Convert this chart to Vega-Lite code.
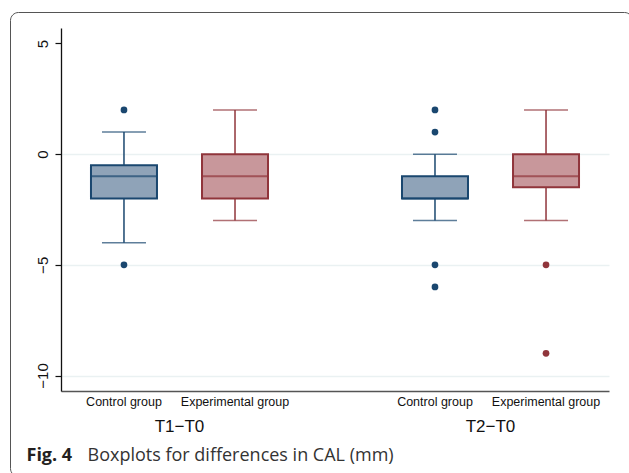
{
  "$schema": "https://vega.github.io/schema/vega-lite/v6.json",
  "autosize": {"type": "none"},
  "padding": {"left": 10, "top": 12, "right": -3, "bottom": -3},
  "width": 622,
  "height": 464,
  "background": "white",
  "config": {
    "view": {"stroke": "#555555", "strokeWidth": 1, "cornerRadius": 8, "fill": "white"},
    "axis": {"labelFont": "Liberation Sans", "titleFont": "Liberation Sans"}
  },
  "datasets": {
    "boxes": [
      {"period": "T1−T0", "group": "Control group", "lo": -4, "q1": -2, "med": -1, "q3": -0.5, "hi": 1},
      {"period": "T1−T0", "group": "Experimental group", "lo": -3, "q1": -2, "med": -1, "q3": 0, "hi": 2},
      {"period": "T2−T0", "group": "Control group", "lo": -3, "q1": -2, "med": -2, "q3": -1, "hi": 0},
      {"period": "T2−T0", "group": "Experimental group", "lo": -3, "q1": -1.5, "med": -1, "q3": 0, "hi": 2}
    ],
    "outliers": [
      {"period": "T1−T0", "group": "Control group", "value": 2},
      {"period": "T1−T0", "group": "Control group", "value": -5},
      {"period": "T2−T0", "group": "Control group", "value": 2},
      {"period": "T2−T0", "group": "Control group", "value": 1},
      {"period": "T2−T0", "group": "Control group", "value": -5},
      {"period": "T2−T0", "group": "Control group", "value": -6},
      {"period": "T2−T0", "group": "Experimental group", "value": -5},
      {"period": "T2−T0", "group": "Experimental group", "value": -9}
    ]
  },
  "resolve": {"axis": {"x": "independent"}},
  "layer": [
    {
      "data": {"name": "boxes"},
      "mark": {"type": "rule", "strokeWidth": 1.5},
      "encoding": {
        "x": {"field": "period", "type": "nominal",
          "scale": {"type": "band", "range": [51, 599], "paddingInner": 0.286, "paddingOuter": 0.024},
          "axis": {"orient": "bottom", "offset": -85, "labelExpr": "'Control group'", "labelOffset": -55.5,
            "labelPadding": 4, "labelFontSize": 12.5, "labelColor": "#111", "labelAngle": 0, "labelOverlap": false,
            "ticks": false, "tickSize": 0, "domain": true, "domainColor": "#555555", "domainWidth": 1.3,
            "title": "Fig. 4", "titleX": 16, "titleY": 69, "titleAlign": "left", "titleAnchor": null, "titleBaseline": "alphabetic",
            "titleFont": "Open Sans", "titleFontSize": 18, "titleFontWeight": "bold", "titleColor": "#231f20", "titleAngle": 0}},
        "xOffset": {"field": "group", "type": "nominal",
          "scale": {"domain": ["Control group", "Experimental group"], "paddingInner": 0, "paddingOuter": 0}},
        "y": {"field": "lo", "type": "quantitative",
          "scale": {"domain": [-10.7, 5.7], "range": [379, 16], "nice": false, "zero": false},
          "axis": {"orient": "left", "offset": -51, "values": [-10, -5, 0, 5], "title": null,
            "labelAngle": -90, "labelFontSize": 15, "labelColor": "#111", "labelPadding": 5,
            "tickSize": 6, "tickColor": "#111", "tickWidth": 1.2, "domainColor": "#111", "domainWidth": 1.3,
            "grid": true, "gridColor": "#eaf1f2", "gridWidth": 1.5,
            "gridOpacity": {"condition": {"test": "datum.value === 5", "value": 0}, "value": 1}}},
        "y2": {"field": "hi"},
        "stroke": {"field": "group", "type": "nominal",
          "scale": {"domain": ["Control group", "Experimental group"], "range": ["#1a476f", "#90353b"]}, "legend": null}
      }
    },
    {
      "data": {"name": "boxes"},
      "mark": {"type": "bar", "width": 66, "strokeWidth": 2},
      "encoding": {
        "x": {"field": "period", "type": "nominal",
          "axis": {"orient": "bottom", "offset": -85, "labelExpr": "'Experimental group'", "labelOffset": 55.5,
            "labelPadding": 4, "labelFontSize": 12.5, "labelColor": "#111", "labelAngle": 0, "labelOverlap": false,
            "ticks": false, "tickSize": 0, "domain": false,
            "title": "Boxplots for differences in CAL (mm)", "titleX": 77, "titleY": 69, "titleAlign": "left", "titleAnchor": null, "titleBaseline": "alphabetic",
            "titleFont": "Open Sans", "titleFontSize": 18, "titleFontWeight": "normal", "titleColor": "#333333", "titleAngle": 0}},
        "xOffset": {"field": "group", "type": "nominal"},
        "y": {"field": "q1", "type": "quantitative"},
        "y2": {"field": "q3"},
        "fill": {"field": "group", "type": "nominal",
          "scale": {"domain": ["Control group", "Experimental group"], "range": ["#8fa3b8", "#c8979b"]}, "legend": null},
        "stroke": {"field": "group", "type": "nominal", "legend": null}
      }
    },
    {
      "data": {"name": "boxes"},
      "mark": {"type": "tick", "size": 66, "thickness": 2},
      "encoding": {
        "x": {"field": "period", "type": "nominal",
          "axis": {"orient": "bottom", "offset": -85, "labelPadding": 27, "labelFontSize": 17, "labelColor": "#111",
            "labelAngle": 0, "labelOverlap": false, "ticks": false, "tickSize": 0, "domain": false, "title": null}},
        "xOffset": {"field": "group", "type": "nominal"},
        "y": {"field": "med", "type": "quantitative"},
        "color": {"field": "group", "type": "nominal",
          "scale": {"domain": ["Control group", "Experimental group"], "range": ["#1a476f", "#90353b"]}, "legend": null}
      }
    },
    {
      "data": {"name": "boxes"},
      "mark": {"type": "tick", "size": 44, "thickness": 1.5},
      "encoding": {
        "x": {"field": "period", "type": "nominal", "axis": null},
        "xOffset": {"field": "group", "type": "nominal"},
        "y": {"field": "hi", "type": "quantitative"},
        "color": {"field": "group", "type": "nominal", "legend": null}
      }
    },
    {
      "data": {"name": "boxes"},
      "mark": {"type": "tick", "size": 44, "thickness": 1.5},
      "encoding": {
        "x": {"field": "period", "type": "nominal", "axis": null},
        "xOffset": {"field": "group", "type": "nominal"},
        "y": {"field": "lo", "type": "quantitative"},
        "color": {"field": "group", "type": "nominal", "legend": null}
      }
    },
    {
      "data": {"name": "outliers"},
      "mark": {"type": "point", "filled": true, "size": 45, "opacity": 1},
      "encoding": {
        "x": {"field": "period", "type": "nominal", "axis": null},
        "xOffset": {"field": "group", "type": "nominal"},
        "y": {"field": "value", "type": "quantitative"},
        "color": {"field": "group", "type": "nominal", "legend": null}
      }
    }
  ]
}
